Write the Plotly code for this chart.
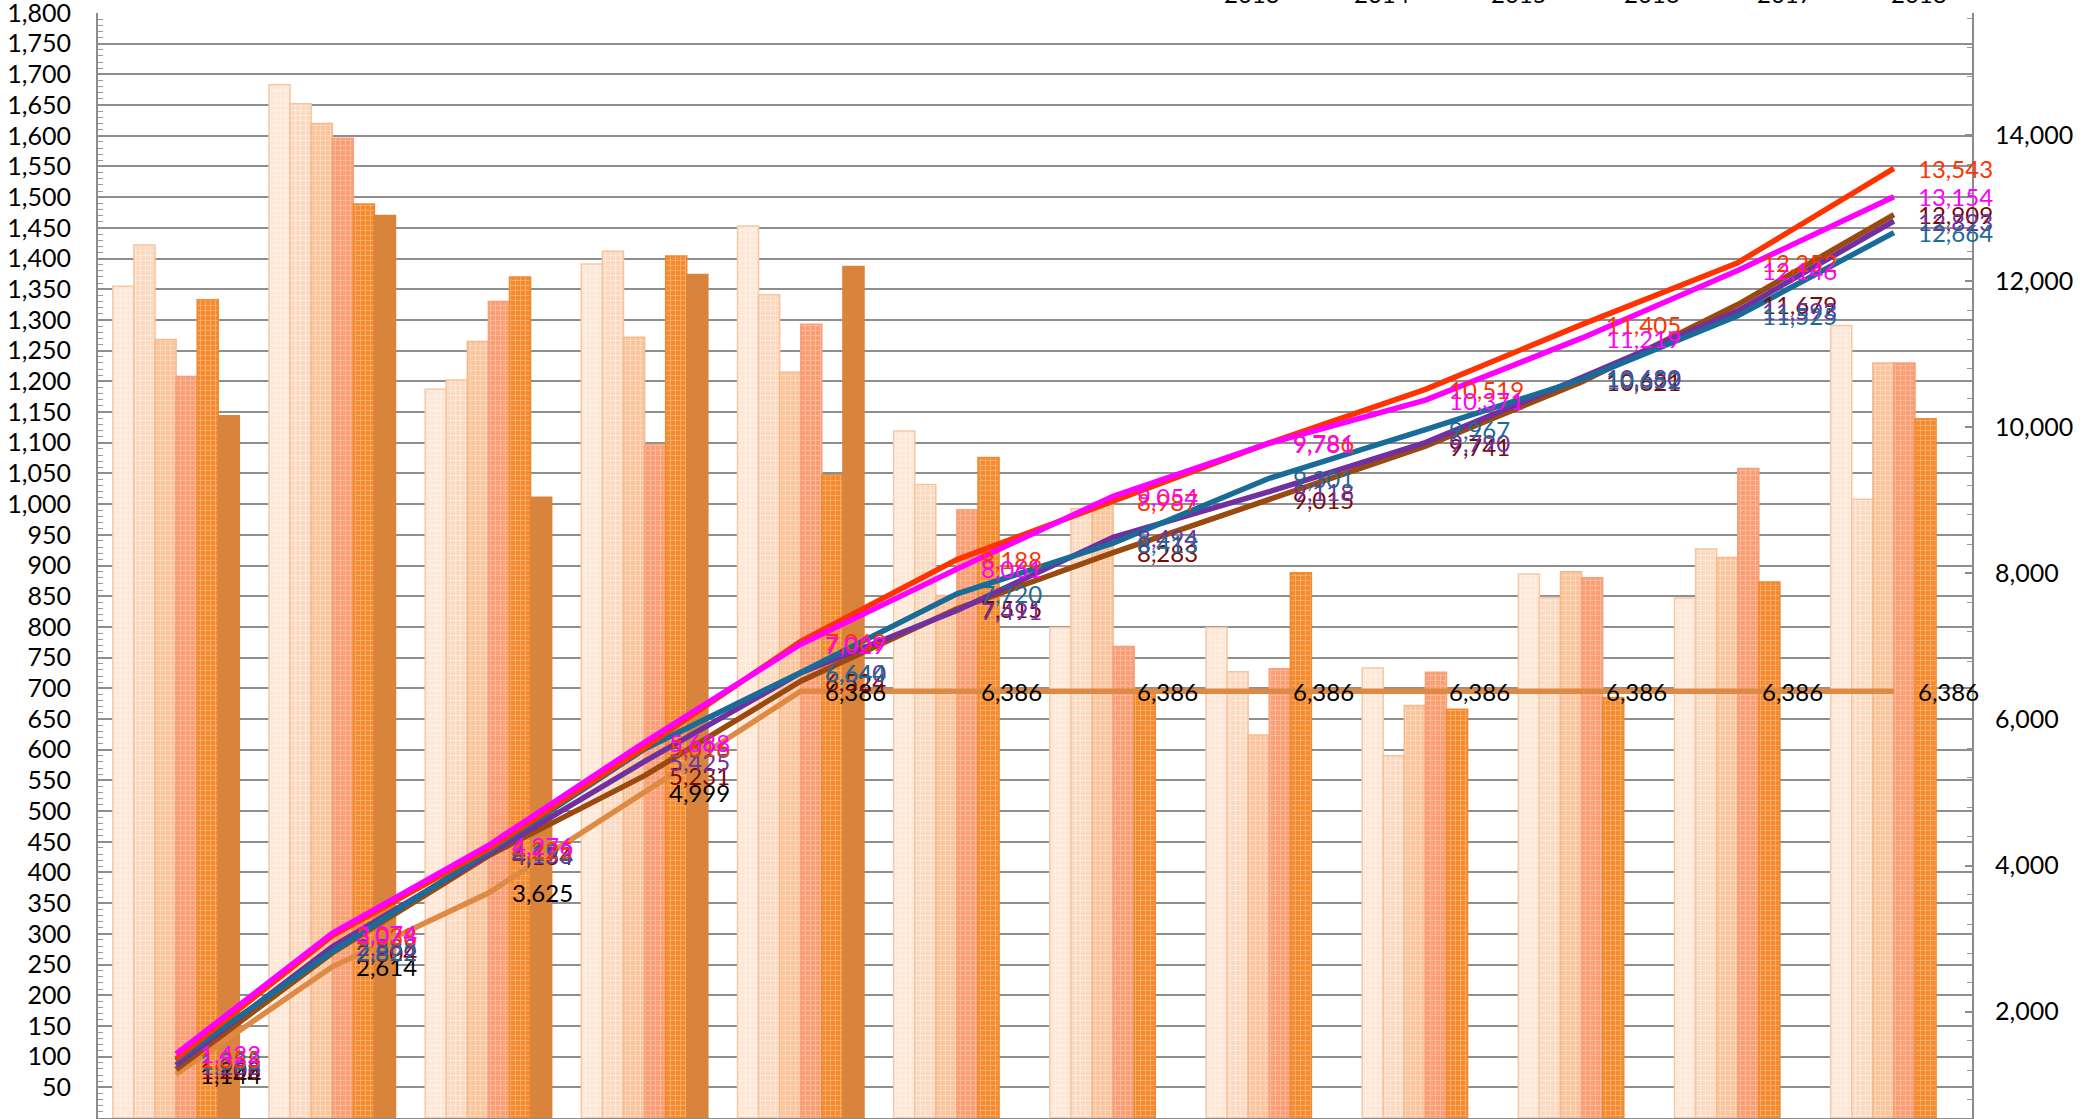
import plotly.graph_objects as go

months = ["1月", "2月", "3月", "4月", "5月", "6月", "7月", "8月", "9月", "10月", "11月", "12月"]
years = ["2013", "2014", "2015", "2016", "2017", "2018"]

# monthly values (left axis, bars)
m2013 = [1355, 1683, 1187, 1391, 1453, 1119, 799, 799, 733, 886, 847, 1291]
m2014 = [1422, 1652, 1202, 1412, 1341, 1032, 993, 727, 590, 848, 927, 1008]
m2015 = [1268, 1620, 1265, 1272, 1215, 851, 1003, 624, 672, 890, 913, 1230]
m2016 = [1208, 1596, 1330, 1097, 1293, 991, 768, 732, 726, 880, 1058, 1230]
m2017 = [1333, 1489, 1370, 1404, 1048, 1076, 693, 888, 666, 685, 873, 1139]
m2018 = [1144, 1470, 1011, 1374, 1387, None, None, None, None, None, None, None]

# cumulative values (right axis, lines), as labelled
c2013 = [1355, 3038, 4225, 5616, 7069, 8188, 8987, 9786, 10519, 11405, 12252, 13543]
c2014 = [1422, 3074, 4276, 5688, 7029, 8061, 9054, 9781, 10371, 11219, 12146, 13154]
c2015 = [1268, 2888, 4153, 5425, 6640, 7491, 8494, 9118, 9790, 10680, 11593, 12823]
c2016 = [1208, 2804, 4134, 5231, 6524, 7515, 8283, 9015, 9741, 10621, 11679, 12909]
c2017 = [1333, 2822, 4192, 5596, 6644, 7720, 8413, 9301, 9967, 10652, 11525, 12664]
c2018 = [1144, 2614, 3625, 4999, 6386, 6386, 6386, 6386, 6386, 6386, 6386, 6386]

left_ticks = list(range(50, 1801, 50))

monthly = [m2013, m2014, m2015, m2016, m2017, m2018]
cumul = [c2013, c2014, c2015, c2016, c2017, c2018]

bar_bg = ["#FDE7D7", "#FCDAC1", "#FAC59C", "#FA9D72", "#F58A2E", "#D9843D"]
bar_fg = ["#FFF6EF", "#FFF1E6", "#FDE3CC", "#FFC9AE", "#FBC08A", "#D9843D"]
bar_line = ["#F7C8A4", "#F8C49C", "#F6B98A", "#F7A07A", "#F08A30", "#D9843D"]

line_col = ["#FF3300", "#FF00FF", "#7030A0", "#9A4A0E", "#1A6C98", "#DF8A44"]
lab_col = ["#FF3300", "#FF00FF", "#7030A0", "#7A0A0A", "#1A6C98", "#000000"]

FONT = "Lato"
W, H = 2095, 1119
ML, MR, MT, MB = 98, 123, 13, 1
PW, PH = W - ML - MR, H - MT - MB

fig = go.Figure()

for i, y in enumerate(years):
    if i == 5:
        pat = dict(shape="")
    else:
        pat = dict(shape="+", fgcolor=bar_fg[i], bgcolor=bar_bg[i], size=5, solidity=0.25, fgopacity=0.9)
    fig.add_trace(go.Bar(
        x=months, y=monthly[i], name=y,
        marker=dict(color=bar_bg[i], line=dict(color=bar_line[i], width=1.5), pattern=pat),
        yaxis="y", showlegend=False,
    ))

order = [5, 3, 2, 4, 0, 1]
for i in order:
    fig.add_trace(go.Scatter(
        x=months, y=cumul[i], mode="lines", yaxis="y2",
        line=dict(color=line_col[i], width=5.5), showlegend=False,
    ))

annotations = []
for i in order:
    for mth, v in zip(months, cumul[i]):
        annotations.append(dict(
            x=mth, y=v, xref="x", yref="y2", text=f"{v:,}", showarrow=False,
            xanchor="left", yanchor="middle", xshift=22,
            font=dict(family=FONT, size=24, color=lab_col[i]),
        ))

# legend texts at top (cut off by the frame edge)
leg_x = [1252, 1382, 1519, 1652, 1785, 1919]
for yr, px in zip(years, leg_x):
    annotations.append(dict(
        x=(px - ML) / PW, y=1 + (MT - 10) / PH, xref="paper", yref="paper", text=yr,
        showarrow=False, xanchor="center", yanchor="bottom",
        font=dict(family=FONT, size=24, color="#000000"),
    ))

grid = "#8E8E8E"
fig.update_layout(
    width=W, height=H,
    margin=dict(l=ML, r=MR, t=MT, b=MB, pad=0, autoexpand=False),
    paper_bgcolor="white", plot_bgcolor="white",
    barmode="group", bargap=0.19, bargroupgap=0,
    font=dict(family=FONT, size=25, color="black"),
    annotations=annotations,
    xaxis=dict(type="category", range=[-0.5, 11.5], showticklabels=False, automargin=False,
               showline=True, linecolor="#8C8C8C", linewidth=2, ticks="",
               showgrid=False, zeroline=False),
    yaxis=dict(range=[0, 1800], tickvals=left_ticks, automargin=False,
               ticktext=[f"{v:,}" for v in left_ticks],
               showgrid=True, gridcolor=grid, gridwidth=2,
               showline=True, linecolor="#8C8C8C", linewidth=2,
               ticks="inside", ticklen=7, tickcolor="#8C8C8C", tickwidth=1.5,
               ticklabelstandoff=20, ticklabeloverflow="allow",
               minor=dict(dtick=10, tick0=0, ticks="inside", ticklen=5, tickcolor="#9A9A9A",
                          tickwidth=1, showgrid=False),
               zeroline=False, tickfont=dict(family=FONT, size=25, color="black")),
    yaxis2=dict(overlaying="y", side="right", range=[545, 15670], automargin=False,
                tick0=0, dtick=2000, tickformat=",d",
                showgrid=False, showline=True, linecolor="#8C8C8C", linewidth=2,
                ticks="inside", ticklen=7, tickcolor="#8C8C8C", tickwidth=1.5,
                ticklabelstandoff=16, ticklabeloverflow="allow",
                minor=dict(dtick=400, tick0=0, ticks="inside", ticklen=5, tickcolor="#9A9A9A",
                           tickwidth=1),
                zeroline=False, tickfont=dict(family=FONT, size=25, color="black")),
)

fig.write_html("out.html", config={"displayModeBar": False},
               post_script="document.body.style.margin='0';document.body.style.overflow='hidden';")
